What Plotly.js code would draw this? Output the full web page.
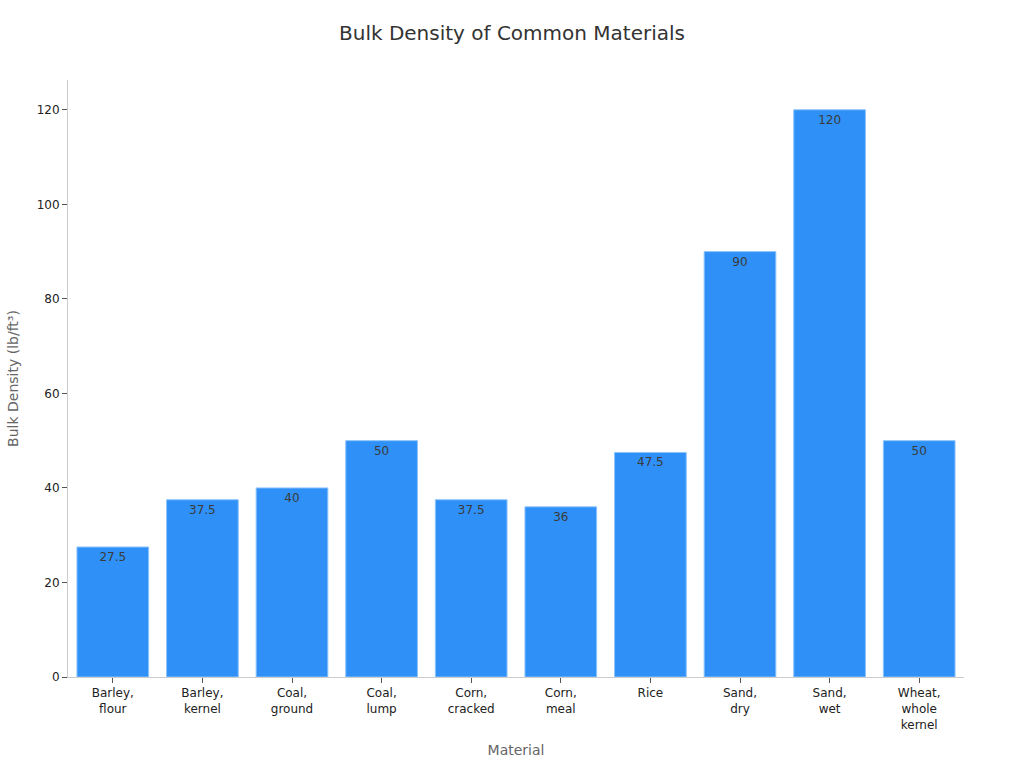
<!DOCTYPE html>
<html>
<head>
<meta charset="utf-8">
<script src="https://cdn.plot.ly/plotly-3.0.1.min.js"></script>
<style>
  html, body { margin: 0; padding: 0; background: #fff; }
  #chart { width: 1024px; height: 768px; }
</style>
</head>
<body>
<div id="chart"></div>
<script>
const materials = ['Barley,<br>flour', 'Barley,<br>kernel', 'Coal,<br>ground', 'Coal,<br>lump', 'Corn,<br>cracked',
                   'Corn,<br>meal', 'Rice', 'Sand,<br>dry', 'Sand,<br>wet', 'Wheat,<br>whole<br>kernel']
const density = [27.5, 37.5, 40, 50, 37.5, 36, 47.5, 90, 120, 50]

const trace = {
    type: 'bar',
    x: materials,
    y: density,
    text: density.map(v => String(v)),
    textposition: 'inside',
    insidetextanchor: 'end',
    textfont: { family: 'DejaVu Sans', size: 12, color: '#3a3a3a' },
    marker: {
        color: '#2f91f7',
        line: { color: '#8cc3fb', width: 1 }
    },
    hoverinfo: 'none'
}

const layout = {
    width: 1024,
    height: 768,
    margin: { l: 68, r: 60, t: 80, b: 91 },
    paper_bgcolor: '#fff',
    plot_bgcolor: '#fff',
    font: { family: 'DejaVu Sans', size: 12, color: '#222' },
    title: {
        text: 'Bulk Density of Common Materials',
        font: { family: 'DejaVu Sans', size: 20, color: '#333' },
        x: 0.5, xanchor: 'center',
        y: 0.957, yanchor: 'middle'
    },
    bargap: 0.2,
    showlegend: false,
    xaxis: {
        title: { text: 'Material', font: { size: 14, color: '#666' }, standoff: 14 },
        showline: true,
        linecolor: '#ccc',
        linewidth: 1,
        ticks: 'outside',
        tickcolor: '#555',
        ticklen: 5,
        showgrid: false,
        tickfont: { size: 12, color: '#222' }
    },
    yaxis: {
        title: { text: 'Bulk Density (lb/ft³)', font: { size: 14, color: '#666' }, standoff: 14 },
        range: [0, 126.3],
        dtick: 20,
        showline: true,
        linecolor: '#ccc',
        linewidth: 1,
        ticks: 'outside',
        tickcolor: '#555',
        ticklen: 5,
        showgrid: false,
        zeroline: false,
        tickfont: { size: 12, color: '#222' }
    }
}

Plotly.newPlot('chart', [trace], layout, { displayModeBar: false, staticPlot: true })
</script>
</body>
</html>
